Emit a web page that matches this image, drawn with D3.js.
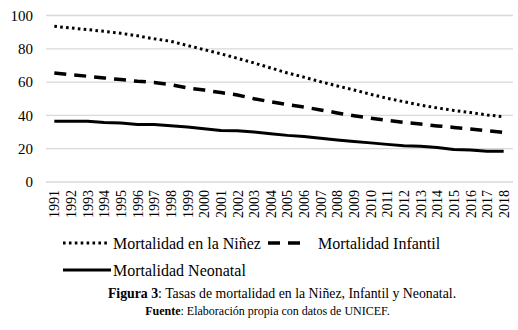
<!DOCTYPE html>
<html>
<head>
<meta charset="utf-8">
<script src="https://cdn.jsdelivr.net/npm/d3@7"></script>
<style>
  body { margin: 0; background: #fff; }
  svg { display: block; font-family: "Liberation Serif", "Times New Roman", serif; }
</style>
</head>
<body>
<div id="chart"></div>
<script>
const years = [1991, 1992, 1993, 1994, 1995, 1996, 1997, 1998, 1999, 2000,
	2001, 2002, 2003, 2004, 2005, 2006, 2007, 2008, 2009, 2010,
	2011, 2012, 2013, 2014, 2015, 2016, 2017, 2018]

const ninez = [93.5, 92.5, 91.5, 90.5, 89.3, 87.8, 86, 84.5, 82, 79.5,
	77, 74.3, 71.5, 68.5, 65.5, 63, 60.2, 57.7, 55.3, 52.7,
	50.3, 48.2, 46.2, 44.5, 43, 41.7, 40.3, 39.2]

const infantil = [65.5, 64.5, 63.5, 62.5, 61.5, 60.5, 59.8, 58.5, 56.5, 55.2,
	53.7, 52.3, 50, 48.2, 46.5, 45, 43.3, 41.5, 39.8, 38.3,
	37, 35.8, 34.8, 33.7, 32.8, 31.8, 30.8, 29.8]

const neonatal = [36.5, 36.5, 36.5, 35.8, 35.5, 34.6, 34.5, 33.8, 33, 32,
	31, 30.8, 30, 29, 28, 27.3, 26.3, 25.2, 24.3, 23.5,
	22.6, 21.8, 21.5, 20.7, 19.5, 19.2, 18.5, 18.5]

const yTicks = [0, 20, 40, 60, 80, 100]

const seriesNames = ["Mortalidad en la Niñez", "Mortalidad Infantil", "Mortalidad Neonatal"]

const W = 518, H = 330

const svg = d3.select("#chart").append("svg")
	.attr("width", W)
	.attr("height", H)

const x = d3.scalePoint().domain(years).range([46, 512]).padding(0.5)
const y = d3.scaleLinear().domain([0, 100]).range([182, 15.5])

// gridlines
svg.append("g")
	.selectAll("line")
	.data(yTicks)
	.join("line")
	.attr("x1", 46)
	.attr("x2", 513)
	.attr("y1", d => y(d))
	.attr("y2", d => y(d))
	.attr("stroke", "#d9d9d9")
	.attr("stroke-width", 1.3)

// y axis labels
svg.append("g")
	.attr("transform", "translate(33,0)")
	.call(d3.axisLeft(y).tickValues(yTicks).tickSize(0).tickPadding(0))
	.call(g => g.select(".domain").remove())
	.selectAll("text")
	.attr("fill", "#000")
	.style("font-size", "15px")
	.style("font-family", "Liberation Serif")

// x axis labels
svg.append("g")
	.attr("transform", "translate(0,187)")
	.call(d3.axisBottom(x).tickSize(0).tickPadding(0))
	.call(g => g.select(".domain").remove())
	.selectAll("text")
	.attr("fill", "#000")
	.style("font-size", "14px")
	.style("font-family", "Liberation Serif")
	.style("text-anchor", "end")
	.attr("transform", "rotate(-90)")
	.attr("x", -3)
	.attr("y", 0)
	.attr("dy", "0.33em")

const styles = [
	{ dash: "2.6,3.3", width: 3 },
	{ dash: "12,8", width: 3.5 },
	{ dash: null, width: 3 },
]

const seriesData = [ninez, infantil, neonatal]

const line = d3.line()
	.x((d, i) => x(years[i]))
	.y(d => y(d))

seriesData.forEach((vals, k) => {
	svg.append("path")
		.datum(vals)
		.attr("fill", "none")
		.attr("stroke", "#000")
		.attr("stroke-width", styles[k].width)
		.attr("stroke-dasharray", styles[k].dash)
		.attr("d", line)
})

// legend
const legendItems = [
	{ x1: 63, x2: 110, y: 243, tx: 113 },
	{ x1: 268, x2: 305, y: 243, tx: 318 },
	{ x1: 63, x2: 111, y: 270, tx: 113 },
]

legendItems.forEach((d, k) => {
	svg.append("line")
		.attr("x1", d.x1)
		.attr("x2", d.x2)
		.attr("y1", d.y)
		.attr("y2", d.y)
		.attr("stroke", "#000")
		.attr("stroke-width", styles[k].width)
		.attr("stroke-dasharray", styles[k].dash)
	svg.append("text")
		.attr("x", d.tx)
		.attr("y", d.y + 5.5)
		.style("font-size", "16px")
		.text(seriesNames[k])
})

// caption
const cap = svg.append("text")
	.attr("x", 282)
	.attr("y", 298)
	.attr("text-anchor", "middle")
	.style("font-size", "13.8px")
cap.append("tspan").style("font-weight", "bold").text("Figura 3")
cap.append("tspan").text(": Tasas de mortalidad en la Niñez, Infantil y Neonatal.")

const src = svg.append("text")
	.attr("x", 267.5)
	.attr("y", 315)
	.attr("text-anchor", "middle")
	.style("font-size", "12px")
src.append("tspan").style("font-weight", "bold").text("Fuente")
src.append("tspan").text(": Elaboración propia con datos de UNICEF.")
</script>
</body>
</html>
